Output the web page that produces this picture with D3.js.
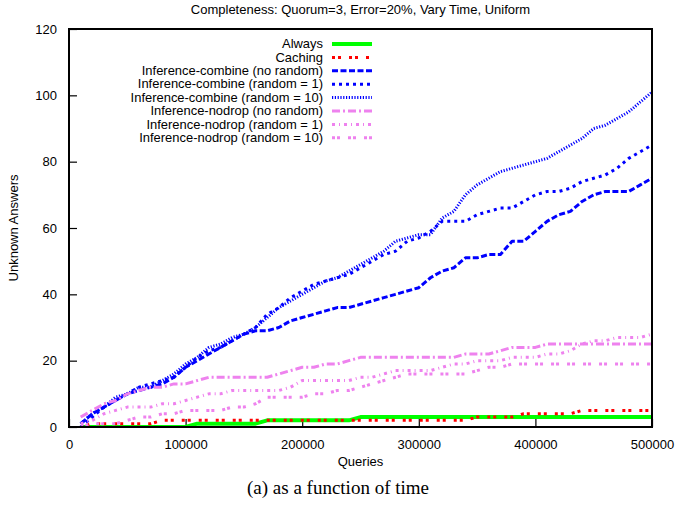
<!DOCTYPE html>
<html>
<head>
<meta charset="utf-8">
<script src="https://cdn.jsdelivr.net/npm/d3@7"></script>
<style>
  html, body { margin: 0; padding: 0; background: #fff; }
  svg { display: block; }
</style>
</head>
<body>
<svg id="chart" width="676" height="507"></svg>
<script>
// Query counts (x), every 10000 from 10000 to 500000
const queries = d3.range(1, 51).map(i => i * 10000);

const always = [0,0,0,0,0,0,0,0,0,0, 1,1,1,1,1,1,2,2,2,2, 2,2,2,2,3,3,3,3,3,3,
  3,3,3,3,3,3,3,3,3,3, 3,3,3,3,3,3,3,3,3,3];
const caching = [0,1,1,1,1,1,1,2,2,2, 2,2,2,2,2,2,2,2,2,2, 2,2,2,2,2,2,2,2,2,2,
  2,2,2,2,3,3,3,3,4,4, 4,4,4,5,5,5,5,5,5,5];
const combineNoRandom = [1,4,6,8,10,11,12,13,15,18, 20,22,24,26,28,29,29,30,32,33,
  34,35,36,36,37,38,39,40,41,42, 45,47,48,51,51,52,52,56,56,59,
  62,64,65,68,70,71,71,71,73,75];
const combineRandom1 = [0,3,6,8,10,12,13,14,15,18, 21,23,24,26,28,30,34,36,39,41,
  43,44,45,46,48,50,52,53,56,57, 59,62,62,62,64,65,66,66,68,70,
  71,71,72,74,75,76,78,81,83,85];
const combineRandom10 = [1,4,6,9,10,12,12,14,16,19, 21,24,25,27,28,30,33,36,38,40,
  42,44,45,47,49,51,53,56,57,58, 58,63,65,70,73,75,77,78,79,80,
  81,83,85,87,90,91,93,95,98,101];
const nodropNoRandom = [3,5,7,8,10,11,12,12,13,13, 14,15,15,15,15,15,15,16,17,18,
  18,19,19,20,21,21,21,21,21,21, 21,21,21,22,22,22,23,24,24,24,
  25,25,25,25,25,25,25,25,25,25];
const nodropRandom1 = [1,2,4,5,6,6,6,7,7,8, 9,10,10,11,11,11,11,11,12,14,
  14,14,14,14,15,15,16,17,17,17, 17,18,19,19,20,20,20,21,21,21,
  22,22,23,25,26,26,27,27,27,28];
const nodropRandom10 = [0,1,1,1,2,3,3,4,4,5, 5,5,5,6,6,7,9,9,9,9,
  10,10,11,11,12,13,14,15,16,16, 16,16,16,16,17,18,18,19,19,19,
  19,19,19,19,19,19,19,19,19,19];

const seriesNames = [
  "Always", "Caching",
  "Inference-combine (no random)", "Inference-combine (random = 1)", "Inference-combine (random = 10)",
  "Inference-nodrop (no random)", "Inference-nodrop (random = 1)", "Inference-nodrop (random = 10)"
];
const seriesValues = [always, caching, combineNoRandom, combineRandom1, combineRandom10,
  nodropNoRandom, nodropRandom1, nodropRandom10];

const xTicks = [0, 100000, 200000, 300000, 400000, 500000];
const yTicks = [0, 20, 40, 60, 80, 100, 120];

// Line styles per series
const styles = [
  { color: "#00ff00", width: 4,   dash: null },
  { color: "#ff0000", width: 3,   dash: "3,3,3,8" },
  { color: "#0000ff", width: 3,   dash: "6,2.5" },
  { color: "#0000ff", width: 3,   dash: "3,4" },
  { color: "#0000ff", width: 3,   dash: "1.2,1.6" },
  { color: "#ee82ee", width: 3,   dash: "8,3,2,3" },
  { color: "#ee82ee", width: 3,   dash: "3,4,1,4" },
  { color: "#ee82ee", width: 3,   dash: "3,2,3,8" }
];

const SANS = "'Liberation Sans', Arial, sans-serif";
const FS = 13;

const svg = d3.select("#chart");
const plot = { left: 69, right: 652, top: 29, bottom: 427 };

const x = d3.scaleLinear().domain([0, 500000]).range([plot.left, plot.right]);
const y = d3.scaleLinear().domain([0, 120]).range([plot.bottom, plot.top]);

// Title
svg.append("text")
  .attr("x", (plot.left + plot.right) / 2).attr("y", 14)
  .attr("text-anchor", "middle")
  .style("font-family", SANS).style("font-size", FS + "px")
  .text("Completeness: Quorum=3, Error=20%, Vary Time, Uniform");

svg.append("clipPath").attr("id", "clip")
  .append("rect")
  .attr("x", plot.left).attr("y", plot.top)
  .attr("width", plot.right - plot.left).attr("height", plot.bottom - plot.top);

// Axes with inward ticks
const xAxis = d3.axisBottom(x).tickValues(xTicks).tickSize(-8).tickPadding(13).tickFormat(d3.format("d"));
const yAxis = d3.axisLeft(y).tickValues(yTicks).tickSize(-8).tickPadding(12);

const gx = svg.append("g").attr("transform", `translate(0,${plot.bottom})`).call(xAxis);
const gy = svg.append("g").attr("transform", `translate(${plot.left},0)`).call(yAxis);
[gx, gy].forEach(g => {
  g.select(".domain").remove();
  g.selectAll(".tick line").attr("stroke", "#000").attr("stroke-width", 1.2);
  g.selectAll(".tick text")
    .style("font-family", SANS).style("font-size", FS + "px").attr("fill", "#000");
});

// Series lines
const line = d3.line().x((d, i) => x(queries[i])).y(d => y(d));
const lines = svg.append("g").attr("clip-path", "url(#clip)");
seriesValues.forEach((vals, k) => {
  const s = styles[k];
  lines.append("path")
    .datum(vals)
    .attr("d", line)
    .attr("fill", "none")
    .attr("stroke", s.color)
    .attr("stroke-width", s.width)
    .attr("stroke-dasharray", s.dash)
    .attr("stroke-linejoin", "round");
});

// Plot border
svg.append("rect")
  .attr("x", plot.left).attr("y", plot.top)
  .attr("width", plot.right - plot.left).attr("height", plot.bottom - plot.top)
  .attr("fill", "none").attr("stroke", "#000").attr("stroke-width", 2);

// Legend: compact rows, text slightly widened so it keeps its run length
const legend = svg.append("g");
seriesNames.forEach((name, k) => {
  const ly = 44 + k * 13.4;
  const s = styles[k];
  legend.append("text")
    .attr("transform", `translate(323,${ly + 4.2}) scale(1.08,1)`)
    .attr("text-anchor", "end")
    .style("font-family", SANS).style("font-size", "12px")
    .text(name);
  legend.append("line")
    .attr("x1", 332).attr("x2", 372).attr("y1", ly).attr("y2", ly)
    .attr("stroke", s.color).attr("stroke-width", s.width)
    .attr("stroke-dasharray", s.dash);
});

// Axis titles
svg.append("text")
  .attr("x", (plot.left + plot.right) / 2).attr("y", 466)
  .attr("text-anchor", "middle")
  .style("font-family", SANS).style("font-size", FS + "px")
  .text("Queries");
svg.append("text")
  .attr("transform", `translate(18,${(plot.top + plot.bottom) / 2}) rotate(-90)`)
  .attr("text-anchor", "middle")
  .style("font-family", SANS).style("font-size", FS + "px")
  .text("Unknown Answers");

// Caption
svg.append("text")
  .attr("x", 338).attr("y", 494)
  .attr("text-anchor", "middle")
  .style("font-family", "'Liberation Serif', 'DejaVu Serif', serif")
  .style("font-size", "19px")
  .text("(a) as a function of time");
</script>
</body>
</html>
